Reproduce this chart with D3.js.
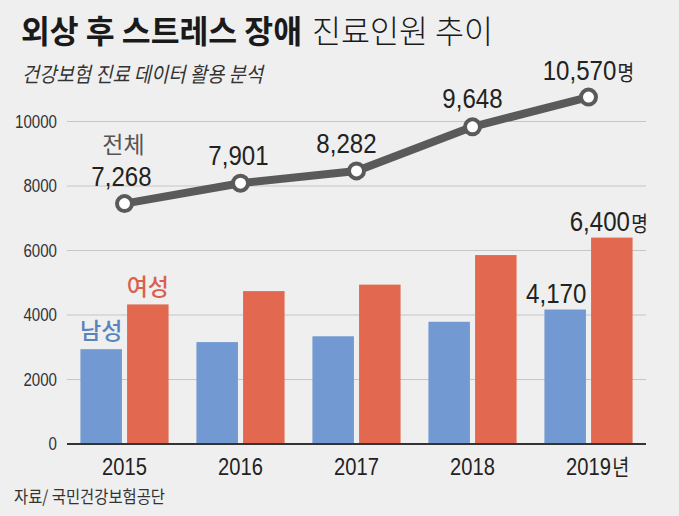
<!DOCTYPE html>
<html><head><meta charset="utf-8">
<script src="https://cdn.jsdelivr.net/npm/d3@7/dist/d3.min.js"></script>
<style>
html,body{margin:0;padding:0;background:#efefef;}
svg{display:block;}
</style></head>
<body>
<svg id="c" width="679" height="516"></svg>
<script>
const years = ['2015', '2016', '2017', '2018', '2019'];
const male = [2940, 3160, 3340, 3790, 4170];
const female = [4328, 4741, 4942, 5858, 6400];
const total = [7268, 7901, 8282, 9648, 10570];
const yTicks = [0, 2000, 4000, 6000, 8000, 10000];
const totalLabels = ['7,268', '7,901', '8,282', '9,648', '10,570'];

const KR = "'Noto Sans CJK KR', 'Noto Sans', sans-serif";
const NUM = "'Liberation Sans', Arial, sans-serif";
const C = { bg:'#efefef', blue:'#7299d2', red:'#e2694f', blueT:'#5b82bc', redT:'#d9604a', line:'#5a5a5a', grid:'#c6c6c6', text:'#222' };

// condensed number label, number centred on cx, optional Korean suffix in same text
function numLabel(parent, cx, y, str, size, f, suffix, sfxSize) {
  const t = parent.append('text')
    .attr('transform', `translate(${cx},${y}) scale(${f},1)`)
    .attr('font-family', NUM).attr('font-size', size).attr('fill', C.text);
  const n = t.append('tspan').text(str);
  const w = n.node().getComputedTextLength();
  n.attr('x', -w / 2);
  if (suffix) t.append('tspan').attr('dx', 1.5).attr('font-family', KR).attr('font-size', sfxSize).text(suffix);
  return t;
}

const svg = d3.select('#c');
svg.append('rect').attr('width',679).attr('height',516).attr('fill',C.bg);

const x = d3.scaleBand().domain(years).range([66.5, 646.5]).paddingInner(0.24).paddingOuter(0.12);
const xs = d3.scaleBand().domain(['m','f']).range([0, x.bandwidth()]).paddingInner(0.11);
const y = d3.scaleLinear().domain([0, 10000]).range([444, 121.5]);
const yLine = d3.scaleLinear().domain(y.domain()).range(y.range().map(r => r - 6));
const cx = d => x(d) + x.bandwidth() / 2;

// gridlines
svg.append('g').selectAll('line').data(yTicks.filter(t => t > 0)).join('line')
  .attr('x1', 67).attr('x2', 646).attr('y1', d => y(d)).attr('y2', d => y(d))
  .attr('stroke', C.grid).attr('stroke-width', 1);

// y axis labels
const ya = svg.append('g').attr('transform', 'translate(57,0)')
  .call(d3.axisLeft(y).tickValues(yTicks).tickSize(0).tickPadding(0).tickFormat(d3.format('d')));
ya.select('.domain').remove();
ya.selectAll('text').attr('x', 0).attr('font-family', NUM).attr('font-size', 18).attr('fill', '#333')
  .attr('transform', 'scale(0.84,1)');

// bars
const g = svg.append('g');
g.selectAll('rect.m').data(years).join('rect').attr('class','m')
  .attr('x', d => x(d) + xs('m')).attr('width', xs.bandwidth())
  .attr('y', (d,i) => y(male[i])).attr('height', (d,i) => y(0) - y(male[i]))
  .attr('fill', C.blue);
g.selectAll('rect.f').data(years).join('rect').attr('class','f')
  .attr('x', d => x(d) + xs('f')).attr('width', xs.bandwidth())
  .attr('y', (d,i) => y(female[i])).attr('height', (d,i) => y(0) - y(female[i]))
  .attr('fill', C.red);

// baseline
svg.append('line').attr('x1', 67).attr('x2', 646).attr('y1', y(0)).attr('y2', y(0))
  .attr('stroke', '#333').attr('stroke-width', 2);

// x labels
const xl = svg.append('g');
years.forEach((d, i) => numLabel(xl, cx(d), 475, d, 24, 0.84, i === years.length - 1 ? '년' : null, 22));

// line
const lg = svg.append('g');
lg.append('path').datum(years)
  .attr('d', d3.line().x(d => cx(d)).y((d,i) => yLine(total[i])))
  .attr('fill', 'none').attr('stroke', C.line).attr('stroke-width', 8).attr('stroke-linejoin', 'round');
lg.selectAll('circle').data(years).join('circle')
  .attr('cx', d => cx(d)).attr('cy', (d,i) => yLine(total[i])).attr('r', 7.5)
  .attr('fill', '#fff').attr('stroke', C.line).attr('stroke-width', 4);

// total labels
const labelDx = [-3, -2, -10, 0, -9];
const labelDy = [-18, -18, -18, -19, -17];
years.forEach((d, i) => numLabel(lg, cx(d) + labelDx[i], yLine(total[i]) + labelDy[i], totalLabels[i], 28, 0.86,
  i === years.length - 1 ? '명' : null, 21));
lg.append('text').attr('x', cx(years[0]) - 1).attr('y', yLine(total[0]) - 51)
  .attr('text-anchor', 'middle').attr('font-family', KR).attr('font-size', 23).attr('fill', '#555').text('전체');

// 2019 bar labels
const mx = x(years[4]) + xs('m') + xs.bandwidth() / 2;
const fx = x(years[4]) + xs('f') + xs.bandwidth() / 2;
numLabel(svg, mx - 9, y(male[4]) - 7, d3.format(',')(male[4]), 28, 0.86);
numLabel(svg, fx - 12, y(female[4]) - 7, d3.format(',')(female[4]), 28, 0.86, '명', 21);

// series labels
const x0m = x(years[0]) + xs('m') + xs.bandwidth() / 2;
const x0f = x(years[0]) + xs('f') + xs.bandwidth() / 2;
svg.append('text').attr('x', x0m).attr('y', y(male[0]) - 10).attr('text-anchor','middle')
  .attr('font-family', KR).attr('font-size', 23).attr('font-weight', 500).attr('fill', C.blueT).text('남성');
svg.append('text').attr('x', x0f).attr('y', y(female[0]) - 9).attr('text-anchor','middle')
  .attr('font-family', KR).attr('font-size', 23).attr('font-weight', 500).attr('fill', C.redT).text('여성');

// titles
svg.append('text').attr('x', 21).attr('y', 43).attr('font-family', KR).attr('font-size', 32)
  .attr('font-weight', 700).attr('fill', '#1a1a1a')
  .attr('textLength', 281).attr('lengthAdjust', 'spacingAndGlyphs').text('외상 후 스트레스 장애');
svg.append('text').attr('x', 312).attr('y', 43).attr('font-family', KR).attr('font-size', 32)
  .attr('font-weight', 300).attr('fill', '#1a1a1a')
  .attr('textLength', 181).attr('lengthAdjust', 'spacingAndGlyphs').text('진료인원 추이');
svg.append('text').attr('x', 22).attr('y', 82).attr('font-family', KR).attr('font-size', 21)
  .attr('font-style', 'italic').attr('fill', '#333')
  .attr('textLength', 241).attr('lengthAdjust', 'spacingAndGlyphs').text('건강보험 진료 데이터 활용 분석');
svg.append('text').attr('x', 14).attr('y', 503).attr('font-family', KR).attr('font-size', 17)
  .attr('fill', '#333')
  .attr('textLength', 151).attr('lengthAdjust', 'spacingAndGlyphs').text('자료/ 국민건강보험공단');
</script>
</body></html>
